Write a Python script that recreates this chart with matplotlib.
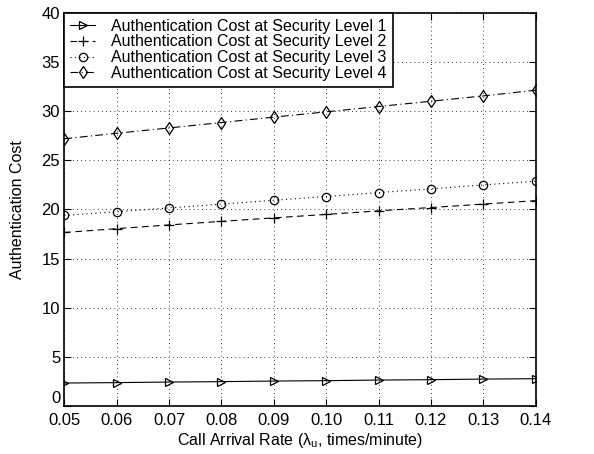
import matplotlib
matplotlib.use("Agg")
import matplotlib.pyplot as plt

plt.rcParams["font.family"] = ["Liberation Sans", "DejaVu Sans"]
plt.rcParams["mathtext.fontset"] = "custom"
plt.rcParams["mathtext.rm"] = "Liberation Sans"

# call arrival rate (times/minute)
rate = [0.05, 0.06, 0.07, 0.08, 0.09, 0.10, 0.11, 0.12, 0.13, 0.14]
tick_labels = ["0.05", "0.06", "0.07", "0.08", "0.09", "0.10", "0.11", "0.12", "0.13", "0.14"]

# authentication cost per security level
cost_l1 = [2.34, 2.38, 2.44, 2.48, 2.54, 2.58, 2.64, 2.68, 2.74, 2.78]
cost_l2 = [17.66, 18.05, 18.43, 18.79, 19.15, 19.50, 19.86, 20.20, 20.55, 20.90]
cost_l3 = [19.40, 19.77, 20.16, 20.54, 20.94, 21.32, 21.72, 22.10, 22.50, 22.88]
cost_l4 = [27.20, 27.76, 28.30, 28.85, 29.40, 29.94, 30.48, 31.02, 31.56, 32.14]

labels = ["Authentication Cost at Security Level 1",
          "Authentication Cost at Security Level 2",
          "Authentication Cost at Security Level 3",
          "Authentication Cost at Security Level 4"]

fig = plt.figure(figsize=(5.94, 4.54), dpi=100)
ax = fig.add_axes([0.1083, 0.1057, 0.7935, 0.8657])

mk = dict(mfc="none", mec="black", ms=6, mew=0.9, color="black", lw=0.8)
ax.plot(rate, cost_l1, marker=">", ls="-", label=labels[0], **mk)
ax.plot(rate, cost_l2, marker="+", ls=(0, (6, 4)), label=labels[1], **{**mk, "ms": 7})
ax.plot(rate, cost_l3, marker="o", ls=(0, (1, 3)), label=labels[2], **mk)
ax.plot(rate, cost_l4, marker="d", ls=(0, (7, 3, 1, 3)), label=labels[3], **{**mk, "ms": 6.5})

ax.set_xlim(0.05, 0.14)
ax.set_ylim(0, 40)
ax.set_xticks(rate)
ax.set_xticklabels(tick_labels)
ax.set_yticks(range(0, 41, 5))
ax.grid(True, ls=(0, (1, 4)), color="black", lw=0.6)
ax.tick_params(direction="in", top=True, right=True, length=5, labelsize=12, width=0.8)
ax.tick_params(axis="x", pad=5)
ax.tick_params(axis="y", pad=3)
for s in ax.spines.values():
    s.set_linewidth(1.2)

# the "0" on the y axis sits just above the x tick labels
fig.canvas.draw()
ax.get_yticklabels()[0].set_va("bottom")

ax.set_xlabel(r"Call Arrival Rate ($\mathrm{\lambda_{u}}$, times/minute)", fontsize=11.5, labelpad=2)
ax.set_ylabel("Authentication Cost", fontsize=11.5, labelpad=12)

leg = ax.legend(loc="upper left", fontsize=11.5, handlelength=1.6, handletextpad=1.0,
                borderaxespad=0.0, labelspacing=0.05, borderpad=0.35,
                fancybox=False, framealpha=1, edgecolor="black")
leg.get_frame().set_linewidth(1.2)

fig.savefig("out.png", dpi=100)
